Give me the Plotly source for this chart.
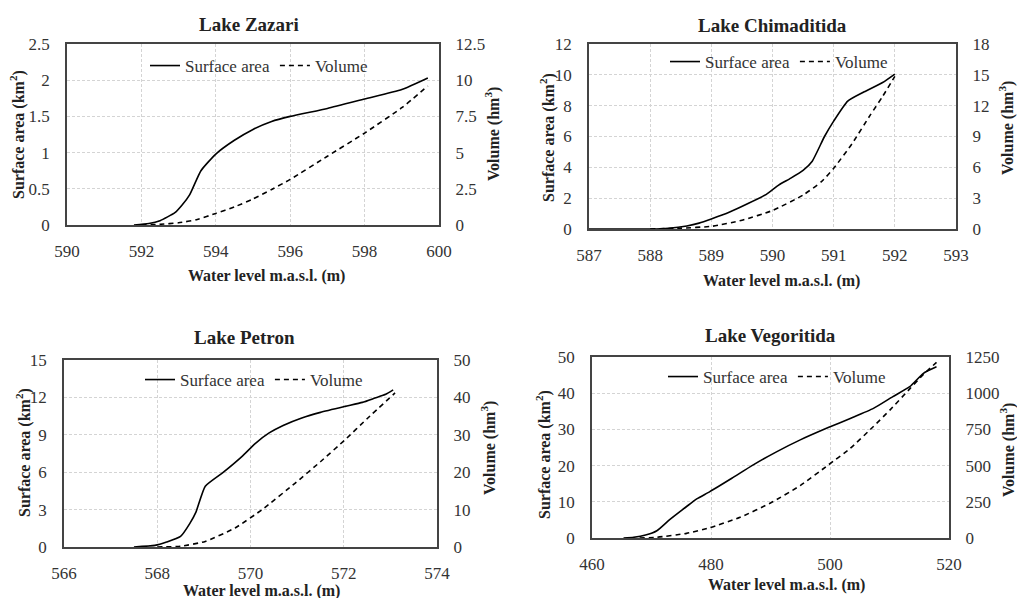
import plotly.graph_objects as go

W, H = 1017, 598

# ---------------- data ----------------
zazari_level_area = [591.8, 592.2, 592.5, 592.9, 593.1, 593.3, 593.6, 594.0, 594.5, 595.0, 595.5, 596.0, 597.0, 598.0, 599.0, 599.7]
zazari_area = [0.0, 0.02, 0.06, 0.17, 0.28, 0.42, 0.75, 0.98, 1.17, 1.32, 1.43, 1.50, 1.61, 1.74, 1.87, 2.03]
zazari_level_vol = [592.0, 592.5, 593.0, 593.5, 594.0, 594.5, 595.0, 595.5, 596.0, 597.0, 598.0, 599.0, 599.7]
zazari_vol = [0.0, 0.05, 0.15, 0.38, 0.8, 1.25, 1.8, 2.45, 3.15, 4.75, 6.35, 8.1, 9.6]

chim_level_area = [587.0, 588.0, 588.3, 588.6, 588.8, 589.0, 589.3, 589.6, 589.9, 590.1, 590.3, 590.5, 590.65, 590.85, 591.0, 591.23, 591.5, 591.8, 592.0]
chim_area = [0.0, 0.0, 0.05, 0.2, 0.38, 0.65, 1.1, 1.65, 2.25, 2.85, 3.3, 3.8, 4.4, 6.0, 7.0, 8.3, 8.9, 9.5, 10.05]
chim_level_vol = [588.0, 588.5, 589.0, 589.5, 590.0, 590.5, 590.8, 591.0, 591.3, 591.6, 591.8, 592.0]
chim_vol = [0.0, 0.08, 0.26, 0.85, 1.8, 3.3, 4.6, 5.9, 8.3, 11.1, 12.9, 14.85]

petron_level_area = [567.5, 567.95, 568.2, 568.5, 568.7, 568.83, 569.03, 569.4, 569.82, 570.1, 570.4, 570.7, 571.1, 571.5, 572.03, 572.4, 572.67, 572.9, 573.06]
petron_area = [0.0, 0.13, 0.4, 0.85, 1.9, 2.8, 4.87, 5.94, 7.27, 8.3, 9.15, 9.75, 10.35, 10.8, 11.28, 11.6, 11.95, 12.25, 12.6]
petron_level_vol = [568.0, 568.5, 569.03, 569.67, 570.25, 570.96, 571.5, 572.03, 572.5, 573.1]
petron_vol = [0.0, 0.2, 1.5, 5.1, 10.0, 17.1, 22.8, 28.7, 34.3, 41.2]

veg_level_area = [465.3, 467.0, 469.0, 470.9, 473.0, 475.9, 477.6, 479.8, 483.5, 487.1, 491.0, 495.0, 499.7, 503.5, 507.3, 510.5, 513.4, 515.7, 517.9]
veg_area = [0.0, 0.2, 0.8, 2.0, 5.0, 8.7, 10.8, 12.8, 16.5, 20.2, 23.8, 27.1, 30.5, 33.1, 35.8, 39.0, 41.8, 45.5, 47.3]
veg_level_vol = [468.0, 470.9, 475.9, 479.8, 484.9, 490.0, 495.0, 499.7, 503.4, 507.3, 510.1, 513.4, 515.7, 517.9]
veg_vol = [0.0, 5.0, 32.0, 71.0, 143.0, 242.0, 362.0, 504.0, 619.0, 770.0, 885.0, 1030.0, 1130.0, 1213.0]

titles = ["Lake Zazari", "Lake Chimaditida", "Lake Petron", "Lake Vegoritida"]
x_ranges = [[590, 600], [587, 593], [566, 574], [460, 520]]
x_dticks = [2, 1, 2, 20]
area_ranges = [[0, 2.5], [0, 12], [0, 15], [0, 50]]
area_dticks = [0.5, 2, 3, 10]
vol_ranges = [[0, 12.5], [0, 18], [0, 50], [0, 1250]]
vol_dticks = [2.5, 3, 10, 250]
area_label = "Surface area"
vol_label = "Volume"
x_title = "Water level m.a.s.l. (m)"
yl_title = "Surface area (km<sup>2</sup>)"
yr_title = "Volume (hm<sup>3</sup>)"

series = [
    (zazari_level_area, zazari_area, zazari_level_vol, zazari_vol),
    (chim_level_area, chim_area, chim_level_vol, chim_vol),
    (petron_level_area, petron_area, petron_level_vol, petron_vol),
    (veg_level_area, veg_area, veg_level_vol, veg_vol),
]

# ---------------- layout geometry (pixels) ----------------
boxes = [(67, 439, 44, 225), (589, 956, 44, 229), (64, 437, 360, 547), (592, 949, 357, 538)]
title_pos = [(249, 25), (772, 26), (244, 337), (770, 335)]
xtitle_pos = [(266, 276), (781, 281), (261, 591), (786, 585)]
yl_pos = [(18, 135), (547, 138), (23, 453), (543, 455)]
yr_pos = [(493, 134), (1007, 128), (489, 448), (1007, 450)]
legend_pos = [(145, 48), (665, 44), (140, 362), (663, 359)]

FONT = "Liberation Serif"
px = lambda v: v / W
py = lambda v: 1 - v / H

fig = go.Figure()
layout = dict(width=W, height=H, margin=dict(l=0, r=0, t=0, b=0, autoexpand=False),
              paper_bgcolor="white", plot_bgcolor="white",
              font=dict(family=FONT, color="#333", size=16),
              annotations=[])

for i in range(4):
    n = i + 1
    xs = "" if n == 1 else str(n)
    yl = str(2 * n - 1) if n > 1 else ""
    yr = str(2 * n)
    la, a, lv, v = series[i]
    leg = "legend" if n == 1 else f"legend{n}"
    fig.add_trace(go.Scatter(x=la, y=a, mode="lines", name=area_label,
                             line=dict(color="black", width=1.6, shape="spline", smoothing=0.5),
                             xaxis="x" + xs, yaxis="y" + yl, legend=leg, hoverinfo="skip"))
    fig.add_trace(go.Scatter(x=lv, y=v, mode="lines", name=vol_label,
                             line=dict(color="black", width=1.6, dash="5px,4px", shape="spline", smoothing=0.5),
                             xaxis="x" + xs, yaxis="y" + yr, legend=leg, hoverinfo="skip"))
    l, r, t, b = boxes[i]
    common_grid = dict(gridcolor="#d4d4d4", griddash="3px,2px", gridwidth=1)
    tf = dict(size=17, color="#333", family=FONT)
    layout["xaxis" + xs] = dict(domain=[px(l), px(r)], anchor="y" + yl, range=x_ranges[i],
                                dtick=x_dticks[i], tick0=x_ranges[i][0], automargin=False,
                                showgrid=True, **common_grid, zeroline=False,
                                showline=True, linecolor="#444", linewidth=1.6, mirror=True,
                                ticks="outside", ticklen=10, tickcolor="rgba(0,0,0,0)",
                                tickfont=tf)
    layout["yaxis" + yl] = dict(domain=[py(b), py(t)], anchor="x" + xs, range=area_ranges[i],
                                dtick=area_dticks[i], tick0=0, automargin=False,
                                showgrid=True, **common_grid, zeroline=False,
                                showline=True, linecolor="#444", linewidth=1.6, mirror=True,
                                ticks="outside", ticklen=12, tickcolor="rgba(0,0,0,0)",
                                tickfont=tf)
    layout["yaxis" + yr] = dict(overlaying="y" + yl, anchor="x" + xs, side="right",
                                range=vol_ranges[i], dtick=vol_dticks[i], tick0=0, automargin=False,
                                showgrid=False, zeroline=False, showline=False,
                                ticks="outside", ticklen=12, tickcolor="rgba(0,0,0,0)",
                                tickfont=tf)
    lx, ly = legend_pos[i]
    layout[leg] = dict(x=px(lx), y=py(ly), xanchor="left", yanchor="top", orientation="h",
                       bgcolor="rgba(0,0,0,0)", font=dict(size=17, color="#333", family=FONT),
                       itemwidth=30, tracegroupgap=0)
    ann = dict(xref="paper", yref="paper", showarrow=False, xanchor="center", yanchor="middle")
    tx, ty = title_pos[i]
    layout["annotations"].append(dict(ann, text="<b>" + titles[i] + "</b>", x=px(tx), y=py(ty),
                                      font=dict(size=19, color="#222", family=FONT)))
    ax_, ay_ = xtitle_pos[i]
    layout["annotations"].append(dict(ann, text="<b>" + x_title + "</b>", x=px(ax_), y=py(ay_),
                                      font=dict(size=16, color="#222", family=FONT)))
    bx, by = yl_pos[i]
    layout["annotations"].append(dict(ann, text="<b>" + yl_title + "</b>", x=px(bx), y=py(by),
                                      textangle=-90, font=dict(size=16, color="#222", family=FONT)))
    cx, cy = yr_pos[i]
    layout["annotations"].append(dict(ann, text="<b>" + yr_title + "</b>", x=px(cx), y=py(cy),
                                      textangle=-90, font=dict(size=16, color="#222", family=FONT)))

fig.update_layout(**layout)
fig.write_html("out.html", config={"displayModeBar": False},
               post_script="document.body.style.margin='0';")
